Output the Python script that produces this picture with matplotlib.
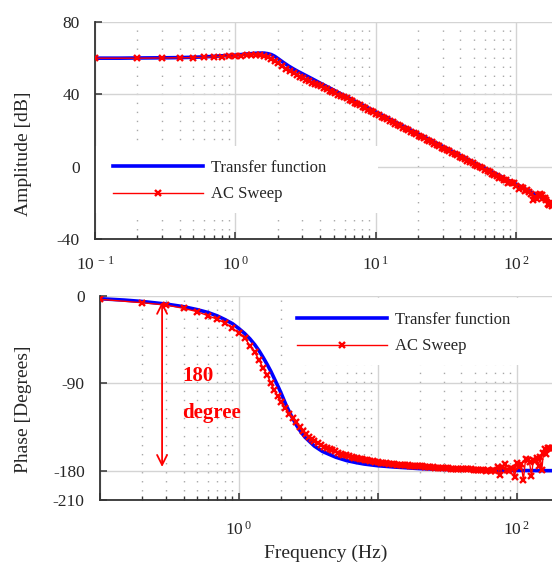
import math
import matplotlib
matplotlib.use("Agg")
import matplotlib.pyplot as plt
from matplotlib.patches import Rectangle
from matplotlib.ticker import FixedLocator, FuncFormatter, LogLocator, NullFormatter

plt.rcParams['font.family'] = ['Liberation Serif', 'DejaVu Serif']
plt.rcParams['mathtext.fontset'] = 'custom'
plt.rcParams['mathtext.rm'] = 'Liberation Serif'
plt.rcParams['axes.unicode_minus'] = False

# ---- model (transfer function) response ----
tf_freq = [0.1, 0.15, 0.2, 0.3, 0.4, 0.5, 0.6, 0.7, 0.8, 0.9, 1.0, 1.1, 1.2, 1.3,
           1.4, 1.5, 1.6, 1.7, 1.8, 1.9, 2.0, 2.2, 2.4, 2.6, 2.8, 3.0, 3.5, 4.0,
           5.0, 6.0, 7.0, 8.0, 10, 13, 16, 20, 25, 30, 40, 50, 60, 70, 80, 100,
           120, 150, 180]
tf_mag = [60.0, 60.0, 60.1, 60.2, 60.3, 60.5, 60.7, 61.0, 61.3, 61.5, 61.7, 62.0,
          62.3, 62.5, 62.7, 62.8, 62.8, 62.5, 62.0, 61.1, 59.9, 57.6, 55.6, 54.0,
          52.6, 51.4, 48.7, 46.3, 42.4, 39.2, 36.5, 34.2, 30.3, 25.7, 22.1, 18.2,
          14.4, 11.2, 6.2, 2.3, -0.9, -3.5, -5.9, -9.7, -12.9, -16.8, -20.0]
tf_phase = [-2.8, -4.2, -5.6, -8.3, -11.0, -14.0, -17.0, -20.5, -24.5, -28.5, -33.5,
            -38.5, -44.0, -50.0, -56.5, -63.5, -70.5, -77.5, -85.0, -92.0, -99.0,
            -113.0, -124.0, -133.0, -140.0, -145.5, -154.5, -160.0, -166.0, -169.5,
            -171.5, -173.0, -174.7, -176.0, -176.8, -177.7, -178.2, -178.5, -179.0,
            -179.2, -179.4, -179.5, -179.6, -179.6, -179.7, -179.8, -179.8]

# ---- measured AC sweep ----
sweep_freq = [0.1, 0.2, 0.3, 0.4, 0.5, 0.6, 0.7, 0.8, 0.9, 1.0,
              1.1, 1.2, 1.3, 1.4, 1.5, 1.6, 1.7, 1.8, 1.9,
              2.0, 2.15, 2.3, 2.45, 2.6, 2.75, 2.9, 3.05, 3.2, 3.35, 3.5, 3.7, 3.9,
              4.1, 4.3, 4.5, 4.7, 4.9, 5.15, 5.4, 5.65, 5.9, 6.2, 6.5, 6.8, 7.1,
              7.4, 7.7, 8.05, 8.4, 8.8, 9.2, 9.6, 10,
              10.5, 11, 11.5, 12, 12.6, 13.2, 13.8, 14.4, 15, 15.7, 16.4, 17.1,
              17.8, 18.6, 19.4, 20.2,
              21, 22, 23, 24, 25, 26, 27.2, 28.4, 29.6, 30.8, 32, 33.5, 35, 36.5,
              38, 39.5, 41, 43, 45, 47, 49,
              51, 53, 55, 57.5, 60, 62.5, 65, 67.5, 70, 73, 76, 79, 82, 85, 88,
              91, 94, 97, 100, 104, 108, 112, 116, 120, 124, 128, 132, 136, 140,
              144, 148, 152, 156, 160, 164, 168, 172, 176, 180]
sweep_mag = [60.0, 60.0, 60.1, 60.2, 60.3, 60.5, 60.7, 60.9, 61.0, 61.2,
             61.4, 61.6, 61.8, 61.8, 61.7, 61.2, 60.4, 59.5, 58.5,
             57.4, 55.6, 54.0, 52.7, 51.6, 50.6, 49.7, 48.8, 48.0, 47.2, 46.5, 45.6, 44.9,
             44.4, 43.6, 42.8, 42.1, 41.4, 40.6, 39.8, 39.1, 38.4, 37.7, 36.9, 36.1, 35.3,
             34.6, 33.9, 33.2, 32.4, 31.6, 30.9, 30.1, 29.4,
             28.6, 27.7, 27.0, 26.2, 25.4, 24.6, 23.8, 23.1, 22.4, 21.6, 20.8, 20.1,
             19.4, 18.6, 17.9, 17.2,
             16.5, 15.7, 14.9, 14.2, 13.5, 12.8, 12.0, 11.3, 10.5, 9.9, 9.2, 8.4, 7.6, 6.9,
             6.2, 5.5, 4.9, 4.1, 3.3, 2.5, 1.8,
             1.1, 0.4, -0.2, -1.0, -1.7, -2.4, -3.1, -3.8, -4.4, -5.4, -6.3, -6.0, -7.6, -7.4, -8.9,
             -8.6, -9.3, -9.0, -10.9, -12.6, -11.4, -11.8, -13.4, -12.9, -14.2, -15.0, -18.4, -16.8, -18.0,
             -15.6, -15.2, -15.8, -17.6, -17.2, -18.3, -20.9, -21.4, -19.8, -21.6]
sweep_phase = [-3.4, -6.9, -9.3, -12.7, -16.1, -20.3, -24.0, -28.0, -33.0, -38.4,
               -43.0, -51.0, -58.0, -66.0, -74.5, -81.0, -90.0, -97.0, -103.0,
               -109.0, -115.0, -121.0, -126.0, -130.0, -134.5, -138.5, -142.0, -145.0,
               -147.0, -149.0, -151.5, -153.5,
               -155.0, -156.5, -157.8, -159.0, -160.0, -161.2, -162.3, -163.2, -164.0,
               -165.0, -165.8, -166.5, -167.1, -167.7, -168.2, -168.8, -169.3, -169.8,
               -170.3, -170.8, -171.2,
               -171.6, -172.0, -172.3, -172.6, -172.9, -173.2, -173.5, -173.7, -173.9,
               -174.1, -174.3, -174.5, -174.7, -174.9, -175.1, -175.3,
               -175.5, -175.8, -176.0, -176.2, -176.4, -176.6, -176.8, -177.0, -177.2,
               -177.3, -177.5, -177.6, -177.8, -177.9, -178.1, -178.0, -178.3, -178.4,
               -178.5, -178.4, -178.7,
               -179.0, -178.8, -179.5, -179.2, -180.2, -178.8, -180.0, -179.5, -179.9,
               -176.3, -184.3, -176.0, -173.3, -179.5, -180.5, -177.5, -178.0, -186.0,
               -172.0, -176.0, -173.0, -189.5, -168.0, -168.5, -171.0, -185.4, -169.0,
               -170.0, -167.0, -175.0, -165.5, -179.2, -162.0, -157.0, -163.0, -156.5,
               -156.0, -157.0, -156.0]

mag_ticks = [-40, 0, 40, 80]
phase_ticks = [-210, -180, -90, 0]
freq_lim = (0.1, 180)

TF_COLOR = '#0000ff'
AC_COLOR = '#ff0000'
TEXT_COLOR = '#262626'
SPINE_COLOR = '#333333'


def decade_label(v):
    exp = int(round(math.log10(v)))
    return r'$\mathregular{10^{\,%d}}$' % exp


def style_axes(ax, labeled_decades, xpad):
    ax.set_xscale('log')
    ax.set_xlim(*freq_lim)
    for side in ('top', 'right'):
        ax.spines[side].set_visible(False)
    for side in ('left', 'bottom'):
        ax.spines[side].set_color(SPINE_COLOR)
        ax.spines[side].set_linewidth(1.3)
    ax.xaxis.set_major_locator(FixedLocator([0.1, 1, 10, 100]))
    ax.xaxis.set_minor_locator(LogLocator(base=10, subs=range(2, 10)))
    ax.xaxis.set_minor_formatter(NullFormatter())
    ax.xaxis.set_major_formatter(FuncFormatter(
        lambda v, p: decade_label(v) if any(abs(v - d) < 1e-9 for d in labeled_decades) else ''))
    ax.tick_params(axis='both', which='major', direction='in', length=5, width=1.1,
                   color=SPINE_COLOR, labelsize=12.5, labelcolor=TEXT_COLOR)
    ax.tick_params(axis='x', which='minor', direction='in', length=3, width=1.0,
                   color=SPINE_COLOR)
    ax.tick_params(axis='x', which='major', pad=xpad)
    ax.tick_params(axis='y', which='major', pad=11)
    ax.grid(True, which='major', color='#d4d4d4', linewidth=1.0, linestyle='-')
    ax.grid(True, which='minor', axis='x', color='#a8a8a8', linewidth=1.0,
            linestyle=(0, (1, 5.5)))
    ax.set_axisbelow(True)


legend_kw = dict(frameon=False, fontsize=12, handlelength=5.4, handletextpad=0.5,
                 labelspacing=0.62, borderaxespad=0.0, borderpad=0.3,
                 labelcolor=TEXT_COLOR)
sweep_kw = dict(color=AC_COLOR, lw=1.0, marker='x', ms=4.0, mew=1.7, zorder=3)

fig = plt.figure(figsize=(5.52, 5.65), dpi=100)

# ---- amplitude ----
ax1 = fig.add_axes([95 / 552, 1 - 239 / 565, 457 / 552, 217 / 565])
style_axes(ax1, [0.1, 1, 10, 100], xpad=12)
ax1.set_ylim(-40, 80)
ax1.set_yticks(mag_ticks)
ax1.add_patch(Rectangle((0.0, 0.12), 0.619, 0.31, transform=ax1.transAxes,
                        facecolor='white', edgecolor='none', zorder=1.8))
ax1.plot(tf_freq, tf_mag, color=TF_COLOR, lw=2.6, label='Transfer function', zorder=2)
ax1.plot(sweep_freq, sweep_mag, label='AC Sweep', **sweep_kw)
ax1.set_ylabel('Amplitude [dB]', fontsize=14, color=TEXT_COLOR)
ax1.yaxis.set_label_coords(-0.138, 0.392)
ax1.legend(loc='upper left', bbox_to_anchor=(0.028, 0.387), **legend_kw)

# ---- phase ----
ax2 = fig.add_axes([100 / 552, 1 - 500 / 565, 452 / 552, 204 / 565])
style_axes(ax2, [1, 100], xpad=15)
ax2.set_ylim(-210, 0)
ax2.set_yticks(phase_ticks)
ax2.add_patch(Rectangle((0.409, 0.662), 0.591, 0.33, transform=ax2.transAxes,
                        facecolor='white', edgecolor='none', zorder=1.8))
ax2.plot(tf_freq, tf_phase, color=TF_COLOR, lw=2.6, label='Transfer function', zorder=2)
ax2.plot(sweep_freq, sweep_phase, label='AC Sweep', **sweep_kw)
ax2.set_ylabel('Phase [Degrees]', fontsize=14, color=TEXT_COLOR)
ax2.yaxis.set_label_coords(-0.150, 0.446)
ax2.set_xlabel('Frequency (Hz)', fontsize=14, color=TEXT_COLOR, labelpad=4)
ax2.legend(loc='upper left', bbox_to_anchor=(0.425, 0.946), **legend_kw)

# 180 degree span marker
ax2.annotate('', xy=(0.28, -176), xytext=(0.28, -6),
             arrowprops=dict(arrowstyle='<->', color=AC_COLOR, lw=1.3,
                             mutation_scale=18, shrinkA=0, shrinkB=0), zorder=4)
ax2.text(0.39, -82, '180', color=AC_COLOR, fontsize=15, fontweight='bold',
         ha='left', va='center')
ax2.text(0.39, -120.5, 'degree', color=AC_COLOR, fontsize=15, fontweight='bold',
         ha='left', va='center')

fig.savefig('out.png', dpi=100)
